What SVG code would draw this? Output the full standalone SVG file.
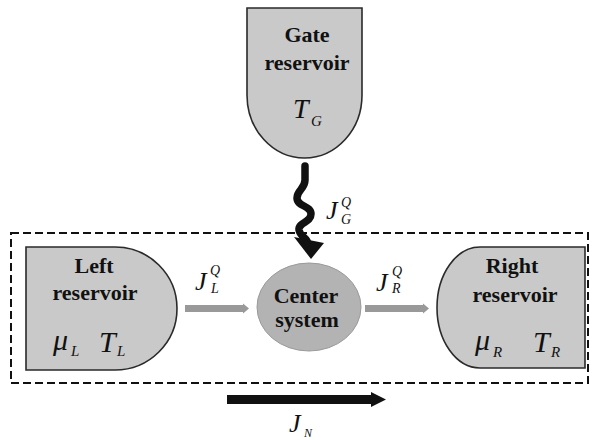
<svg xmlns="http://www.w3.org/2000/svg" width="594" height="440" viewBox="0 0 594 440">
  <defs>
    <style>
      .res { fill: #c9c9c9; stroke: #2a2a2a; stroke-width: 1.6; }
      .ctr { fill: #b3b3b3; stroke: #9a9a9a; stroke-width: 1; }
      .lbl { font-family: "Liberation Serif", "Times New Roman", serif; font-weight: bold; font-size: 22px; fill: #111; text-anchor: middle; }
      .math { font-family: "Liberation Serif", "Times New Roman", serif; font-style: italic; fill: #111; }
      .big { font-size: 30px; }
      .sub { font-size: 15px; }
      .flow { fill: #999; }
    </style>
  </defs>

  <!-- system boundary -->
  <rect x="11" y="233" width="577" height="150" fill="none" stroke="#111" stroke-width="2" stroke-dasharray="8,4"/>

  <!-- reservoirs and center system -->
  <g id="gate-reservoir">
    <path class="res" d="M247,8 H362 V95 A57.5 63 0 0 1 304.5 158 A57.5 63 0 0 1 247 95 Z"/>
    <text class="lbl" x="307" y="42">Gate</text>
    <text class="lbl" x="307" y="70">reservoir</text>
    <text class="math" font-size="28" x="293" y="118">T</text>
    <text class="math sub" x="311" y="126">G</text>
  </g>

  <g id="left-reservoir">
    <path class="res" d="M26,247 H115 A62 61.5 0 0 1 115 370 H26 Z"/>
    <text class="lbl" x="94" y="273">Left</text>
    <text class="lbl" x="95" y="300">reservoir</text>
    <text class="math big" x="53" y="350">μ</text>
    <text class="math sub" x="71" y="356">L</text>
    <text class="math big" x="99" y="352">T</text>
    <text class="math sub" x="117" y="356">L</text>
  </g>

  <g id="center-system">
    <ellipse class="ctr" cx="309" cy="307" rx="52" ry="44"/>
    <text class="lbl" font-size="23" x="306" y="303">Center</text>
    <text class="lbl" x="307" y="327">system</text>
  </g>

  <g id="right-reservoir">
    <path class="res" d="M585,247 H480 A43 60.5 0 0 0 480 368 H585 Z"/>
    <text class="lbl" x="512" y="273">Right</text>
    <text class="lbl" x="515" y="302">reservoir</text>
    <text class="math big" x="475" y="350">μ</text>
    <text class="math sub" x="493" y="357">R</text>
    <text class="math big" x="533" y="352">T</text>
    <text class="math sub" x="551" y="357">R</text>
  </g>

  <!-- connectors -->
  <g id="connectors">
    <!-- heat from gate: wavy arrow -->
    <path d="M305,166 V180 C305,189 297,190 297,198 C297,207 311,205 311,214 C311,223 298,222 299,230 C300,236 305,237 307,241" fill="none" stroke="#111" stroke-width="7.5" stroke-linecap="round"/>
    <polygon points="294,237 324,243 311,259" fill="#111"/>
    <text class="math" font-size="26" x="326" y="219">J</text>
    <text class="math" font-size="14" x="341" y="207">Q</text>
    <text class="math" font-size="14" x="341" y="224">G</text>

    <!-- heat from left reservoir -->
    <polygon class="flow" points="185,305 243,305 243,303.5 249,308.5 243,313.5 243,312 185,312"/>
    <text class="math" font-size="26" x="195" y="290">J</text>
    <text class="math" font-size="14" x="210" y="275">Q</text>
    <text class="math" font-size="14" x="211" y="293">L</text>

    <!-- heat to right reservoir -->
    <polygon class="flow" points="365,305 423,305 423,303.5 429,308.5 423,313.5 423,312 365,312"/>
    <text class="math" font-size="26" x="376" y="291">J</text>
    <text class="math" font-size="14" x="392" y="276">Q</text>
    <text class="math" font-size="14" x="392" y="293">R</text>

    <!-- particle current -->
    <polygon points="227,395 371,395 371,392 386,399.5 371,407 371,404 227,404" fill="#111"/>
    <text class="math" font-size="26" x="289" y="432">J</text>
    <text class="math" font-size="12" x="304" y="437">N</text>
  </g>
</svg>
